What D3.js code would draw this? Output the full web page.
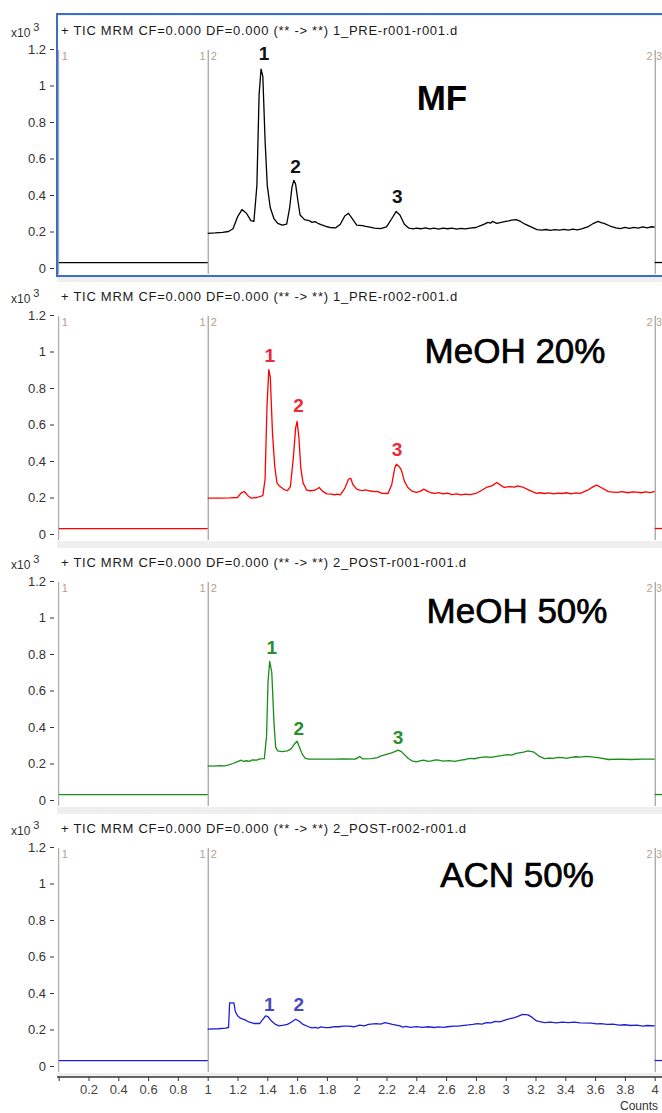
<!DOCTYPE html>
<html>
<head>
<meta charset="utf-8">
<script src="https://cdn.jsdelivr.net/npm/d3@7"></script>
<style>
  html, body { margin: 0; padding: 0; background: #fff; }
  svg { display: block; font-family: "Liberation Sans", Arial, sans-serif; }
</style>
</head>
<body>
<script>
// sample names and headers of the four TIC traces
const samples = ['MF', 'MeOH 20%', 'MeOH 50%', 'ACN 50%'];
const headers = [
  '+ TIC MRM CF=0.000 DF=0.000 (** -> **) 1_PRE-r001-r001.d',
  '+ TIC MRM CF=0.000 DF=0.000 (** -> **) 1_PRE-r002-r001.d',
  '+ TIC MRM CF=0.000 DF=0.000 (** -> **) 2_POST-r001-r001.d',
  '+ TIC MRM CF=0.000 DF=0.000 (** -> **) 2_POST-r002-r001.d'
];
const yTicks = [0, 0.2, 0.4, 0.6, 0.8, 1, 1.2];
const xTicks = [0, 0.2, 0.4, 0.6, 0.8, 1, 1.2, 1.4, 1.6, 1.8, 2, 2.2, 2.4, 2.6, 2.8, 3, 3.2, 3.4, 3.6, 3.8, 4];
const segBreaks = [1, 4];

// segment 1 and segment 3 (flat baseline), same for every run
const seg1 = [[0, 0.03], [1, 0.03]];
const seg3 = [[4, 0.03], [4.08, 0.03]];

// segment 2 traces, [time, counts x10^3]
const mf = [[1.00,0.19],[1.05,0.192],[1.10,0.195],[1.14,0.20],[1.17,0.215],[1.20,0.28],[1.23,0.32],[1.26,0.30],[1.29,0.26],[1.31,0.255],[1.33,0.45],[1.345,0.95],[1.358,1.09],[1.37,1.05],[1.385,0.70],[1.40,0.45],[1.42,0.33],[1.445,0.27],[1.47,0.245],[1.50,0.235],[1.53,0.24],[1.55,0.33],[1.565,0.44],[1.578,0.48],[1.59,0.46],[1.605,0.37],[1.62,0.29],[1.65,0.265],[1.68,0.26],[1.70,0.25],[1.72,0.254],[1.74,0.245],[1.76,0.238],[1.78,0.232],[1.80,0.226],[1.82,0.222],[1.86,0.22],[1.89,0.24],[1.92,0.285],[1.945,0.30],[1.97,0.27],[2.00,0.235],[2.04,0.232],[2.06,0.228],[2.08,0.225],[2.12,0.218],[2.16,0.216],[2.20,0.225],[2.235,0.27],[2.265,0.31],[2.29,0.29],[2.32,0.24],[2.35,0.218],[2.38,0.214],[2.40,0.219],[2.43,0.215],[2.46,0.22],[2.49,0.214],[2.52,0.218],[2.55,0.213],[2.58,0.219],[2.61,0.215],[2.64,0.218],[2.67,0.213],[2.70,0.217],[2.73,0.214],[2.76,0.219],[2.80,0.222],[2.84,0.235],[2.86,0.242],[2.88,0.25],[2.90,0.246],[2.91,0.255],[2.94,0.245],[2.97,0.25],[3.00,0.255],[3.02,0.258],[3.04,0.262],[3.07,0.265],[3.10,0.255],[3.13,0.24],[3.17,0.225],[3.21,0.21],[3.24,0.207],[3.27,0.211],[3.30,0.206],[3.33,0.21],[3.36,0.207],[3.39,0.212],[3.42,0.208],[3.45,0.213],[3.48,0.209],[3.51,0.214],[3.55,0.225],[3.59,0.245],[3.62,0.255],[3.64,0.249],[3.66,0.245],[3.70,0.23],[3.74,0.22],[3.77,0.216],[3.80,0.222],[3.83,0.217],[3.86,0.223],[3.89,0.218],[3.92,0.225],[3.95,0.22],[3.98,0.226],[4.00,0.224]];
const meoh20 = [[1.00,0.197],[1.08,0.197],[1.15,0.198],[1.20,0.20],[1.225,0.225],[1.246,0.233],[1.27,0.21],[1.29,0.197],[1.33,0.20],[1.37,0.21],[1.385,0.30],[1.398,0.70],[1.41,0.90],[1.42,0.86],[1.435,0.55],[1.45,0.37],[1.465,0.28],[1.48,0.264],[1.51,0.245],[1.535,0.237],[1.555,0.26],[1.575,0.42],[1.59,0.58],[1.60,0.617],[1.612,0.53],[1.625,0.36],[1.64,0.28],[1.665,0.24],[1.69,0.237],[1.72,0.24],[1.748,0.255],[1.77,0.235],[1.80,0.22],[1.83,0.218],[1.85,0.215],[1.87,0.219],[1.89,0.214],[1.92,0.25],[1.945,0.30],[1.96,0.305],[1.975,0.27],[2.00,0.246],[2.02,0.24],[2.04,0.238],[2.06,0.242],[2.08,0.237],[2.12,0.232],[2.14,0.234],[2.17,0.223],[2.21,0.222],[2.235,0.27],[2.255,0.36],[2.266,0.382],[2.285,0.37],[2.30,0.35],[2.32,0.29],[2.343,0.255],[2.37,0.235],[2.40,0.228],[2.43,0.235],[2.45,0.246],[2.48,0.232],[2.50,0.226],[2.527,0.223],[2.55,0.227],[2.58,0.22],[2.61,0.224],[2.64,0.216],[2.67,0.22],[2.70,0.214],[2.73,0.219],[2.76,0.216],[2.80,0.222],[2.84,0.24],[2.87,0.255],[2.91,0.265],[2.94,0.282],[2.97,0.265],[2.99,0.255],[3.01,0.258],[3.03,0.26],[3.06,0.257],[3.08,0.264],[3.10,0.259],[3.12,0.255],[3.15,0.243],[3.18,0.232],[3.207,0.223],[3.23,0.226],[3.26,0.222],[3.29,0.225],[3.32,0.22],[3.35,0.224],[3.38,0.222],[3.41,0.226],[3.44,0.22],[3.47,0.225],[3.50,0.223],[3.55,0.24],[3.585,0.258],[3.61,0.268],[3.64,0.255],[3.69,0.232],[3.72,0.23],[3.75,0.228],[3.78,0.232],[3.82,0.226],[3.85,0.231],[3.88,0.23],[3.91,0.226],[3.94,0.231],[3.97,0.227],[4.00,0.233]];
const meoh50 = [[1.00,0.187],[1.04,0.186],[1.08,0.188],[1.11,0.187],[1.13,0.19],[1.17,0.20],[1.20,0.21],[1.225,0.218],[1.24,0.212],[1.26,0.215],[1.28,0.212],[1.30,0.22],[1.33,0.218],[1.35,0.225],[1.38,0.227],[1.395,0.35],[1.405,0.65],[1.416,0.76],[1.43,0.70],[1.445,0.42],[1.456,0.29],[1.47,0.269],[1.50,0.265],[1.535,0.269],[1.56,0.28],[1.585,0.31],[1.60,0.322],[1.615,0.29],[1.635,0.25],[1.655,0.228],[1.677,0.224],[1.75,0.224],[1.85,0.224],[1.90,0.225],[1.99,0.224],[2.02,0.238],[2.04,0.225],[2.10,0.227],[2.14,0.232],[2.16,0.24],[2.20,0.25],[2.24,0.26],[2.278,0.273],[2.30,0.265],[2.343,0.23],[2.37,0.215],[2.40,0.209],[2.43,0.216],[2.45,0.218],[2.48,0.212],[2.50,0.214],[2.53,0.22],[2.55,0.218],[2.58,0.213],[2.62,0.216],[2.66,0.212],[2.70,0.218],[2.73,0.222],[2.76,0.228],[2.79,0.226],[2.82,0.232],[2.867,0.236],[2.90,0.233],[2.93,0.238],[2.97,0.243],[3.01,0.249],[3.04,0.246],[3.07,0.255],[3.12,0.262],[3.15,0.269],[3.19,0.262],[3.22,0.242],[3.26,0.227],[3.29,0.23],[3.32,0.228],[3.35,0.233],[3.38,0.232],[3.41,0.228],[3.43,0.232],[3.47,0.237],[3.50,0.235],[3.54,0.239],[3.575,0.236],[3.62,0.232],[3.69,0.222],[3.76,0.224],[3.84,0.222],[3.92,0.224],[4.00,0.224]];
const acn50 = [[1.00,0.202],[1.07,0.204],[1.12,0.208],[1.14,0.211],[1.145,0.30],[1.147,0.346],[1.176,0.346],[1.185,0.30],[1.20,0.275],[1.22,0.262],[1.25,0.253],[1.28,0.24],[1.31,0.233],[1.35,0.233],[1.37,0.255],[1.388,0.274],[1.405,0.27],[1.43,0.245],[1.455,0.228],[1.479,0.22],[1.51,0.224],[1.535,0.228],[1.56,0.24],[1.59,0.256],[1.615,0.245],[1.64,0.228],[1.677,0.215],[1.70,0.209],[1.72,0.212],[1.74,0.208],[1.76,0.214],[1.79,0.21],[1.82,0.211],[1.85,0.216],[1.88,0.215],[1.91,0.219],[1.95,0.218],[1.98,0.215],[2.02,0.224],[2.05,0.22],[2.08,0.228],[2.13,0.232],[2.16,0.23],[2.19,0.238],[2.24,0.228],[2.29,0.22],[2.31,0.213],[2.33,0.217],[2.36,0.212],[2.40,0.216],[2.44,0.212],[2.48,0.215],[2.52,0.211],[2.55,0.214],[2.58,0.212],[2.61,0.215],[2.65,0.219],[2.68,0.218],[2.72,0.223],[2.75,0.225],[2.78,0.228],[2.81,0.232],[2.84,0.229],[2.87,0.238],[2.90,0.236],[2.93,0.245],[2.96,0.242],[3.01,0.256],[3.06,0.265],[3.09,0.275],[3.113,0.283],[3.15,0.28],[3.18,0.265],[3.207,0.247],[3.26,0.238],[3.30,0.24],[3.34,0.236],[3.38,0.24],[3.42,0.238],[3.46,0.24],[3.50,0.236],[3.575,0.235],[3.61,0.231],[3.64,0.232],[3.68,0.228],[3.72,0.229],[3.76,0.224],[3.80,0.226],[3.84,0.222],[3.88,0.224],[3.92,0.219],[3.95,0.222],[4.00,0.22]];
const traces = [mf, meoh20, meoh50, acn50];

// peak numbers: [label, time, height above which the number sits]
const peaksMF = [['1', 1.378, 1.14], ['2', 1.59, 0.52], ['3', 2.273, 0.358]];
const peaksMeOH20 = [['1', 1.416, 0.943], ['2', 1.61, 0.666], ['3', 2.27, 0.427]];
const peaksMeOH50 = [['1', 1.43, 0.80], ['2', 1.612, 0.355], ['3', 2.278, 0.309]];
const peaksACN50 = [['1', 1.414, 0.301], ['2', 1.612, 0.301]];
const peaks = [peaksMF, peaksMeOH20, peaksMeOH50, peaksACN50];

const lineColors = ['#000000', '#ff0000', '#1a8c1a', '#1f1fd6'];
const peakColors = ['#111111', '#ea2a36', '#2a8f2a', '#4848c4'];

// name placement inside each panel (center x, baseline from panel top)
const nameLayout = [
  {x: 442, y: 110, weight: 'bold', stroke: 0},
  {x: 515, y: 97, weight: 'normal', stroke: 0.7},
  {x: 517, y: 91, weight: 'normal', stroke: 0.7},
  {x: 517, y: 89, weight: 'normal', stroke: 0.7}
];

const W = 662, H = 1113;
const panelStep = 266;
const plotLeft = 58.7, plotRight = 654.7;
const font = '"Liberation Sans", Arial, sans-serif';

const svg = d3.select('body').append('svg').attr('width', W).attr('height', H);

const x = d3.scaleLinear().domain([0, 4]).range([plotLeft, plotRight]);

// grey frame behind the panels
svg.append('rect').attr('x', 57).attr('y', 14).attr('width', W - 57).attr('height', 1063).attr('fill', '#efefef');

const clip = svg.append('defs').append('clipPath').attr('id', 'plotclip');
clip.append('rect').attr('x', plotLeft).attr('y', 0).attr('width', W - plotLeft).attr('height', H);

const line = d3.line().x(d => x(d[0])).y(d => d[1]);

samples.forEach((name, i) => {
  const top = panelStep * i;
  const y = d3.scaleLinear().domain([0, 1.2]).range([268 + top, 49 + top]);
  const g = svg.append('g');

  g.append('rect').attr('x', 57).attr('y', 16 + top).attr('width', W - 57).attr('height', 259).attr('fill', '#fff');

  // header line and exponent
  g.append('text').attr('x', 61).attr('y', 35 + top).attr('font-size', 13).attr('letter-spacing', 0.72)
    .attr('fill', '#1a1a1a').text(headers[i]);
  const ex = g.append('text').attr('x', 11).attr('y', 37 + top).attr('font-size', 12).attr('fill', '#333');
  ex.append('tspan').text('x10');
  ex.append('tspan').attr('dx', 3).attr('dy', -6).attr('font-size', 11).text('3');

  // y axis
  const yAxis = d3.axisLeft(y).tickValues(yTicks).tickFormat(d3.format('~g')).tickSize(4).tickPadding(4);
  const ya = g.append('g').attr('transform', 'translate(54,0)').call(yAxis);
  ya.select('.domain').remove();
  ya.selectAll('.tick line').attr('stroke', '#333');
  ya.selectAll('.tick text').attr('font-size', 13).attr('fill', '#333').attr('font-family', font);

  // plot border and segment dividers
  g.append('line').attr('x1', x(0)).attr('x2', x(0)).attr('y1', 50 + top).attr('y2', 274 + top).attr('stroke', '#999');
  segBreaks.forEach(b => {
    g.append('line').attr('x1', x(b) + 0.5).attr('x2', x(b) + 0.5).attr('y1', 50 + top).attr('y2', 274 + top).attr('stroke', '#8a8a8a');
  });
  const segText = g.append('g').attr('font-size', 11).attr('fill', '#b5a088');
  segText.append('text').attr('x', x(0) + 3).attr('y', 60 + top).text('1');
  segText.append('text').attr('x', x(1) - 2).attr('y', 60 + top).attr('text-anchor', 'end').text('1');
  segText.append('text').attr('x', x(1) + 3).attr('y', 60 + top).text('2');
  segText.append('text').attr('x', x(4) - 2).attr('y', 60 + top).attr('text-anchor', 'end').text('2');
  segText.append('text').attr('x', x(4) + 1.5).attr('y', 60 + top).attr('font-size', 10).text('3');

  // traces
  const lg = g.append('g').attr('clip-path', 'url(#plotclip)').attr('fill', 'none')
    .attr('stroke', lineColors[i]).attr('stroke-width', 1.3).attr('stroke-linejoin', 'round');
  [seg1, traces[i], seg3].forEach(seg => {
    lg.append('path').attr('d', line(seg.map(d => [d[0], y(d[1])])));
  });

  // peak numbers
  g.selectAll('.peak').data(peaks[i]).enter().append('text')
    .attr('x', d => x(d[1])).attr('y', d => y(d[2]))
    .attr('text-anchor', 'middle').attr('font-size', 19).attr('font-weight', 'bold')
    .attr('fill', peakColors[i]).text(d => d[0]);

  // sample name
  g.append('text').attr('x', nameLayout[i].x).attr('y', nameLayout[i].y + top)
    .attr('text-anchor', 'middle').attr('font-size', 35).attr('font-weight', nameLayout[i].weight)
    .attr('fill', '#000').attr('stroke', '#000').attr('stroke-width', nameLayout[i].stroke).text(name);
});

// selected panel outline
svg.append('rect').attr('x', 57).attr('y', 14).attr('width', W - 56).attr('height', 262)
  .attr('fill', 'none').attr('stroke', '#3b6fc7').attr('stroke-width', 2);

// shared time axis
const xAxis = d3.axisBottom(x).tickValues(xTicks).tickFormat(d => d === 0 ? '' : d3.format('~g')(d)).tickSize(4).tickPadding(4);
const xa = svg.append('g').attr('transform', 'translate(0,1077)').call(xAxis);
xa.select('.domain').remove();
xa.append('line').attr('x1', 57).attr('x2', W).attr('y1', 0).attr('y2', 0).attr('stroke', '#333').attr('stroke-width', 1.5);
xa.selectAll('.tick line').attr('stroke', '#333');
xa.selectAll('.tick text').attr('font-size', 13).attr('fill', '#444').attr('font-family', font);

svg.append('text').attr('x', 620).attr('y', 1110).attr('font-size', 12).attr('fill', '#333').text('Counts');
</script>
</body>
</html>
